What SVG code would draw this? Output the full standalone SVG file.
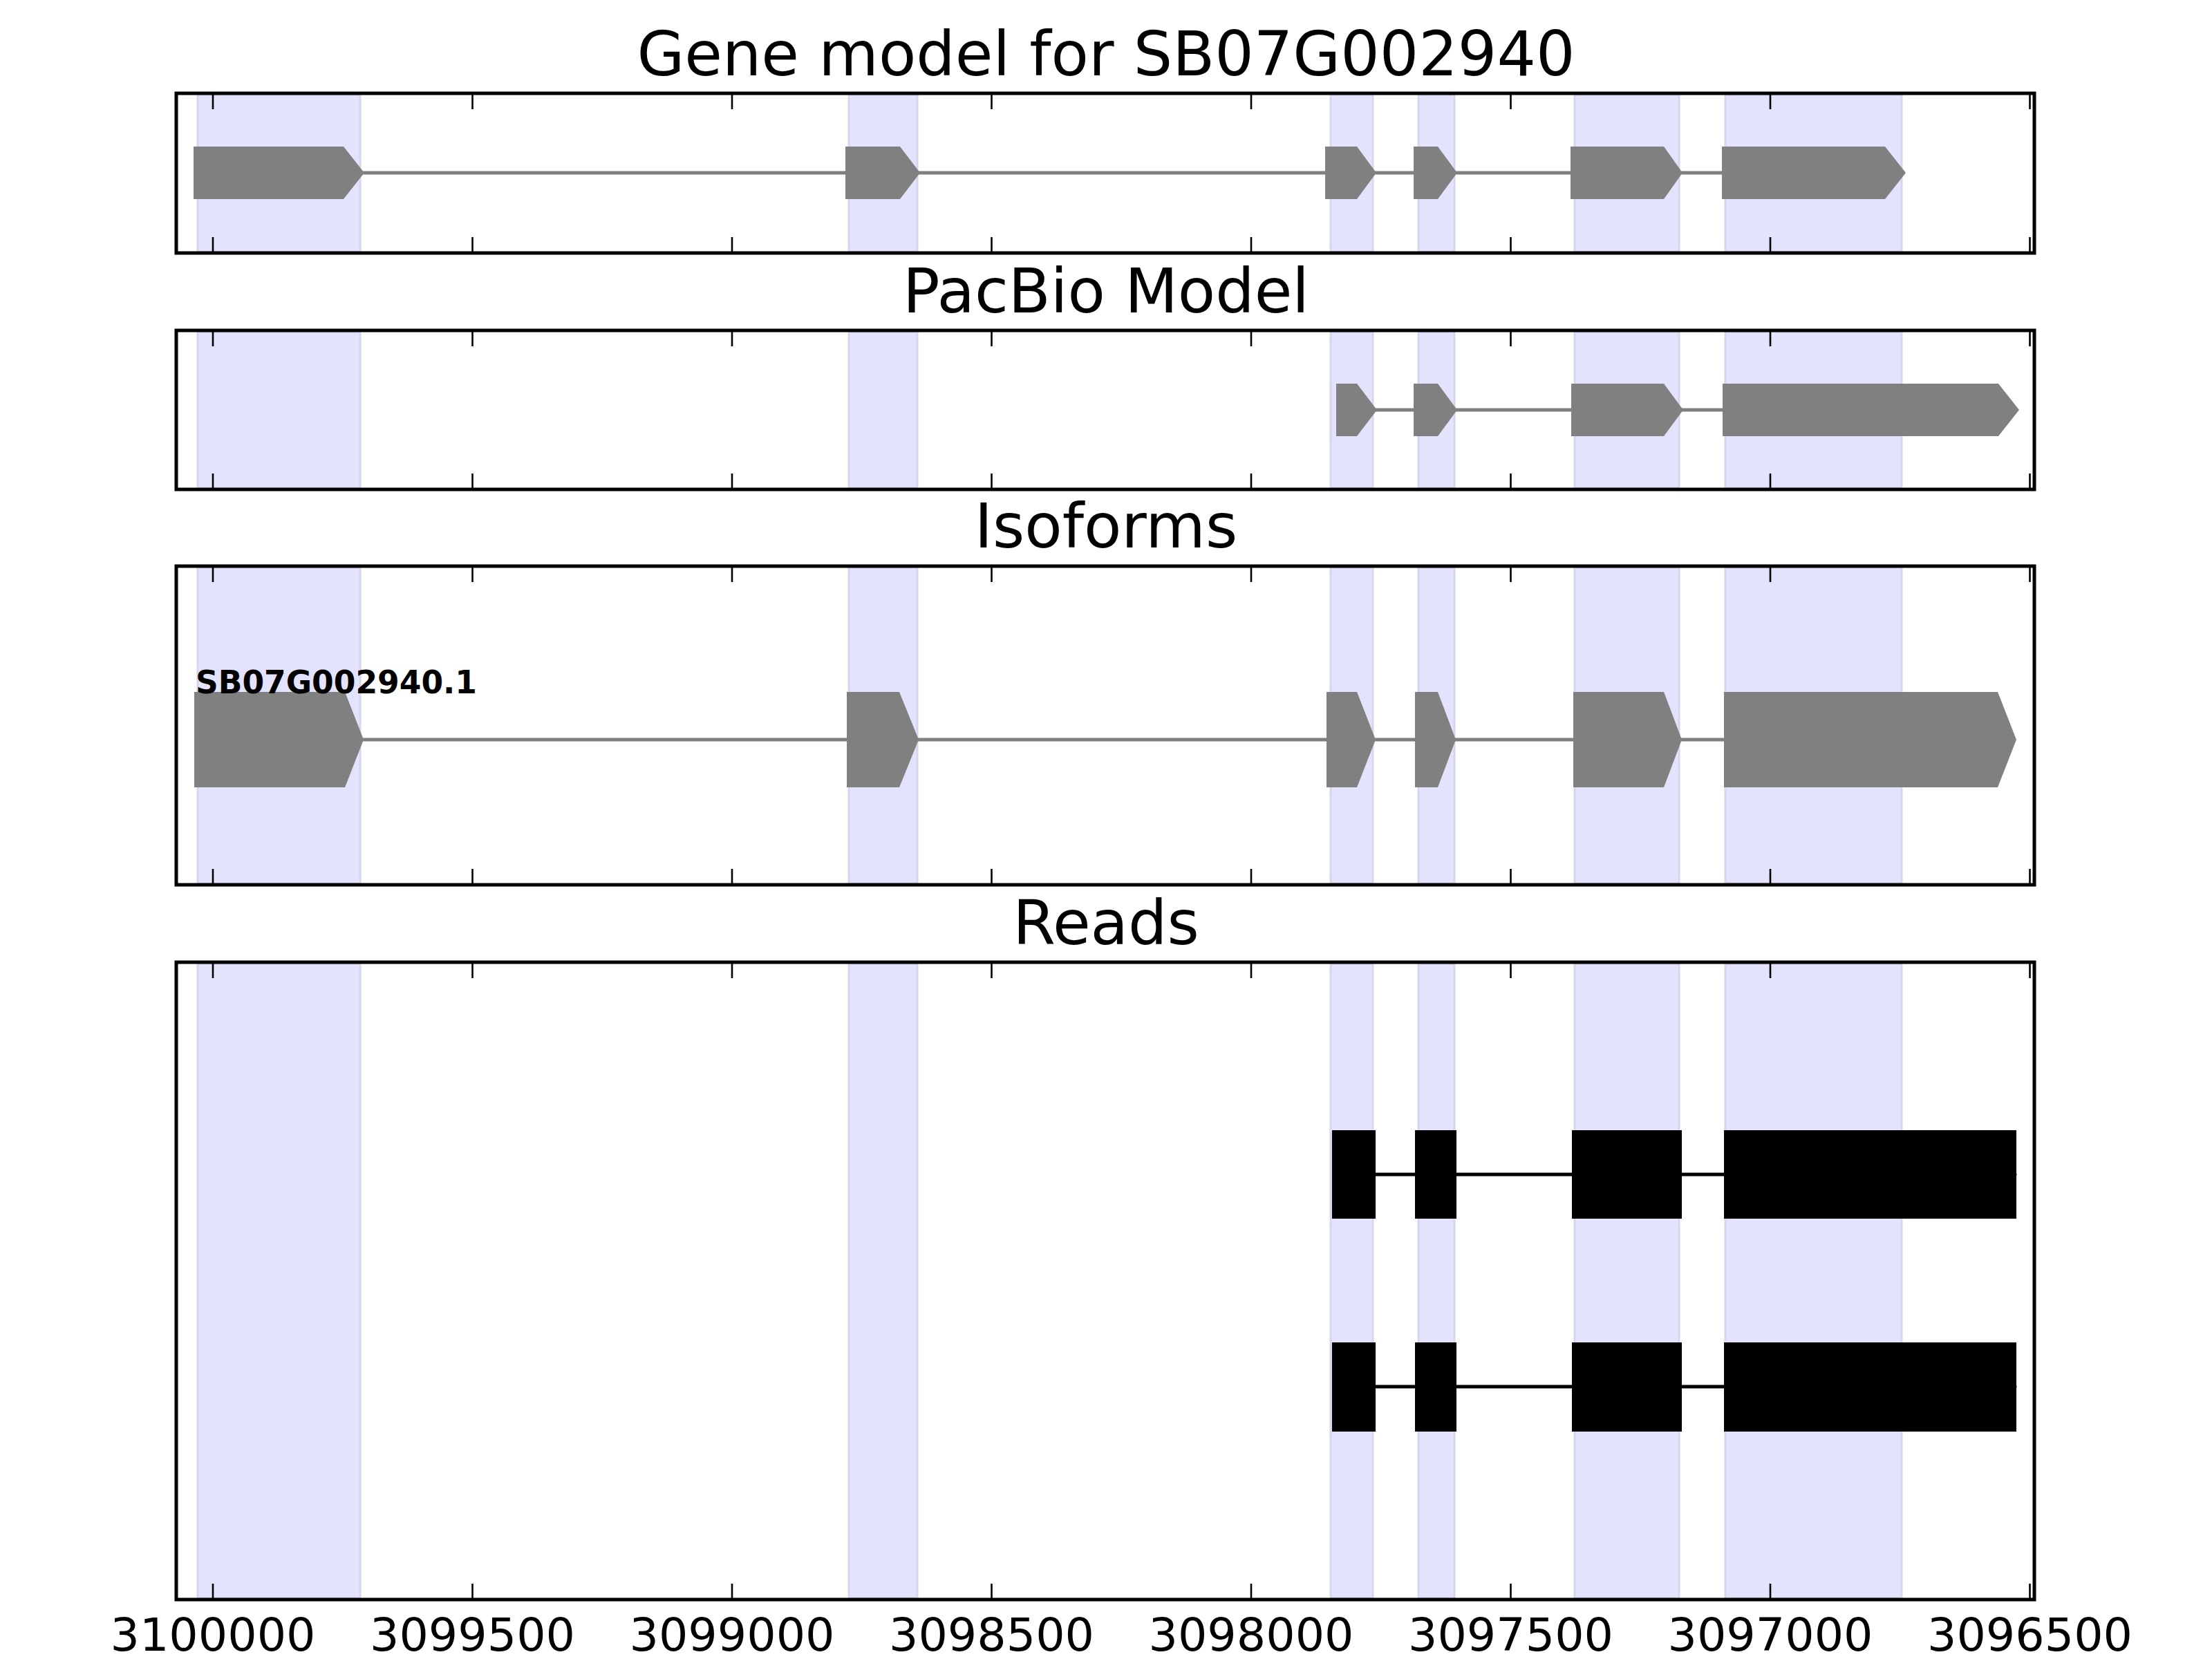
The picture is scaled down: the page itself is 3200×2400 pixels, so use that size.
<svg xmlns="http://www.w3.org/2000/svg" width="3200" height="2400" viewBox="0 0 3200 2400">
<style>
.band{fill:#e3e3fd;stroke:#d6d6ec;stroke-width:3}
.frame{fill:none;stroke:#000;stroke-width:5}
.tick{stroke:#000;stroke-width:2.6}
.exon{fill:#808080}
.intron{stroke:#808080;stroke-width:5}
.read{fill:#000}
.rline{stroke:#000;stroke-width:5;stroke-linecap:round}
.title{font-family:"DejaVu Sans",sans-serif;font-size:88.9px;fill:#000;text-anchor:middle}
.tl{font-family:"DejaVu Sans",sans-serif;font-size:66.7px;fill:#000;text-anchor:middle}
.iso{font-family:"DejaVu Sans",sans-serif;font-size:45.5px;font-weight:bold;fill:#000}
</style>
<defs>
<g id="bands1">
<rect x="286" y="0" width="235" height="1"/>
</g>
</defs>
<rect width="3200" height="2400" fill="#fff"/>

<!-- Panel 1 -->
<g id="panel1">
<text class="title" x="1600" y="109">Gene model for SB07G002940</text>
<g id="p1-bands">
<rect class="band" x="286" y="137" width="235" height="227"/>
<rect class="band" x="1228" y="137" width="99" height="227"/>
<rect class="band" x="1925" y="137" width="61" height="227"/>
<rect class="band" x="2052" y="137" width="52" height="227"/>
<rect class="band" x="2278" y="137" width="151" height="227"/>
<rect class="band" x="2496" y="137" width="255" height="227"/>
</g>
<g id="p1-gene">
<line class="intron" x1="520" y1="250" x2="2495" y2="250"/>
<polygon class="exon" points="280,212 497,212 527,250 497,288 280,288"/>
<polygon class="exon" points="1223,212 1302,212 1331,250 1302,288 1223,288"/>
<polygon class="exon" points="1917,212 1963,212 1991,250 1963,288 1917,288"/>
<polygon class="exon" points="2045,212 2080,212 2108,250 2080,288 2045,288"/>
<polygon class="exon" points="2272,212 2407,212 2434,250 2407,288 2272,288"/>
<polygon class="exon" points="2491,212 2727,212 2757,250 2727,288 2491,288"/>
</g>
<rect class="frame" x="255" y="135" width="2688" height="231"/>
<g id="p1-ticks">
<path class="tick" d="M308,137v21M683.5,137v21M1059,137v21M1434.5,137v21M1810,137v21M2185.5,137v21M2561,137v21M2936.5,137v21M308,364v-21M683.5,364v-21M1059,364v-21M1434.5,364v-21M1810,364v-21M2185.5,364v-21M2561,364v-21M2936.5,364v-21"/>
</g>
</g>

<!-- Panel 2 -->
<g id="panel2">
<text class="title" x="1600" y="452">PacBio Model</text>
<g id="p2-bands">
<rect class="band" x="286" y="480" width="235" height="226"/>
<rect class="band" x="1228" y="480" width="99" height="226"/>
<rect class="band" x="1925" y="480" width="61" height="226"/>
<rect class="band" x="2052" y="480" width="52" height="226"/>
<rect class="band" x="2278" y="480" width="151" height="226"/>
<rect class="band" x="2496" y="480" width="255" height="226"/>
</g>
<g id="p2-gene">
<line class="intron" x1="1985" y1="593" x2="2495" y2="593"/>
<polygon class="exon" points="1933,555 1963,555 1992,593 1963,631 1933,631"/>
<polygon class="exon" points="2045,555 2080,555 2108,593 2080,631 2045,631"/>
<polygon class="exon" points="2273,555 2407,555 2435,593 2407,631 2273,631"/>
<polygon class="exon" points="2492,555 2891,555 2921,593 2891,631 2492,631"/>
</g>
<rect class="frame" x="255" y="478" width="2688" height="230"/>
<g id="p2-ticks">
<path class="tick" d="M308,480v21M683.5,480v21M1059,480v21M1434.5,480v21M1810,480v21M2185.5,480v21M2561,480v21M2936.5,480v21M308,706v-21M683.5,706v-21M1059,706v-21M1434.5,706v-21M1810,706v-21M2185.5,706v-21M2561,706v-21M2936.5,706v-21"/>
</g>
</g>

<!-- Panel 3 -->
<g id="panel3">
<text class="title" x="1600" y="792">Isoforms</text>
<g id="p3-bands">
<rect class="band" x="286" y="821" width="235" height="457"/>
<rect class="band" x="1228" y="821" width="99" height="457"/>
<rect class="band" x="1925" y="821" width="61" height="457"/>
<rect class="band" x="2052" y="821" width="52" height="457"/>
<rect class="band" x="2278" y="821" width="151" height="457"/>
<rect class="band" x="2496" y="821" width="255" height="457"/>
</g>
<g id="p3-isoform">
<line class="intron" x1="520" y1="1070" x2="2497" y2="1070"/>
<polygon class="exon" points="281,1001 499,1001 526,1070 499,1139 281,1139"/>
<polygon class="exon" points="1225,1001 1301,1001 1329,1070 1301,1139 1225,1139"/>
<polygon class="exon" points="1919,1001 1963,1001 1990,1070 1963,1139 1919,1139"/>
<polygon class="exon" points="2047,1001 2080,1001 2106,1070 2080,1139 2047,1139"/>
<polygon class="exon" points="2276,1001 2407,1001 2433,1070 2407,1139 2276,1139"/>
<polygon class="exon" points="2494,1001 2890,1001 2917,1070 2890,1139 2494,1139"/>
<text class="iso" x="283" y="1003">SB07G002940.1</text>
</g>
<rect class="frame" x="255" y="819" width="2688" height="461"/>
<g id="p3-ticks">
<path class="tick" d="M308,821v21M683.5,821v21M1059,821v21M1434.5,821v21M1810,821v21M2185.5,821v21M2561,821v21M2936.5,821v21M308,1278v-21M683.5,1278v-21M1059,1278v-21M1434.5,1278v-21M1810,1278v-21M2185.5,1278v-21M2561,1278v-21M2936.5,1278v-21"/>
</g>
</g>

<!-- Panel 4 -->
<g id="panel4">
<text class="title" x="1600" y="1366">Reads</text>
<g id="p4-bands">
<rect class="band" x="286" y="1394" width="235" height="918"/>
<rect class="band" x="1228" y="1394" width="99" height="918"/>
<rect class="band" x="1925" y="1394" width="61" height="918"/>
<rect class="band" x="2052" y="1394" width="52" height="918"/>
<rect class="band" x="2278" y="1394" width="151" height="918"/>
<rect class="band" x="2496" y="1394" width="255" height="918"/>
</g>
<g id="read1">
<line class="rline" x1="1930" y1="1699" x2="2915" y2="1699"/>
<rect class="read" x="1927" y="1635" width="63" height="128"/>
<rect class="read" x="2047" y="1635" width="60" height="128"/>
<rect class="read" x="2274" y="1635" width="159" height="128"/>
<rect class="read" x="2494" y="1635" width="423" height="128"/>
</g>
<g id="read2">
<line class="rline" x1="1930" y1="2006" x2="2915" y2="2006"/>
<rect class="read" x="1927" y="1942" width="63" height="129"/>
<rect class="read" x="2047" y="1942" width="60" height="129"/>
<rect class="read" x="2274" y="1942" width="159" height="129"/>
<rect class="read" x="2494" y="1942" width="423" height="129"/>
</g>
<rect class="frame" x="255" y="1392" width="2688" height="922"/>
<g id="p4-ticks">
<path class="tick" d="M308,1394v21M683.5,1394v21M1059,1394v21M1434.5,1394v21M1810,1394v21M2185.5,1394v21M2561,1394v21M2936.5,1394v21M308,2312v-21M683.5,2312v-21M1059,2312v-21M1434.5,2312v-21M1810,2312v-21M2185.5,2312v-21M2561,2312v-21M2936.5,2312v-21"/>
</g>
<g id="xlabels">
<text class="tl" x="308" y="2388">3100000</text>
<text class="tl" x="683.5" y="2388">3099500</text>
<text class="tl" x="1059" y="2388">3099000</text>
<text class="tl" x="1434.5" y="2388">3098500</text>
<text class="tl" x="1810" y="2388">3098000</text>
<text class="tl" x="2185.5" y="2388">3097500</text>
<text class="tl" x="2561" y="2388">3097000</text>
<text class="tl" x="2936.5" y="2388">3096500</text>
</g>
</g>
</svg>
